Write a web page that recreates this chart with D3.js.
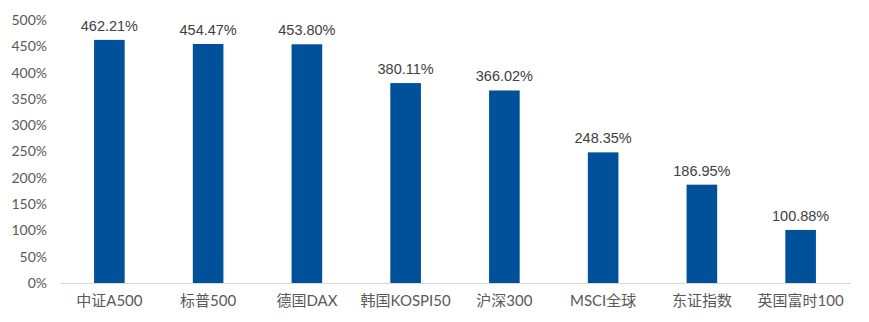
<!DOCTYPE html>
<html><head><meta charset="utf-8">
<script src="https://cdn.jsdelivr.net/npm/d3@7"></script>
<style>body{margin:0;background:#fff}</style>
</head><body>
<svg id="c" width="869" height="322"></svg>
<script>
const categories = ["中证A500","标普500","德国DAX","韩国KOSPI50","沪深300","MSCI全球","东证指数","英国富时100"];
const values = [462.21,454.47,453.80,380.11,366.02,248.35,186.95,100.88];
const yTicks = [0,50,100,150,200,250,300,350,400,450,500];

const svg = d3.select("#c");
const mLeft = 60, mRight = 850, mTop = 20, mBottom = 283;
const x = d3.scaleBand().domain(categories).range([mLeft,mRight]).paddingInner(0.69).paddingOuter(0.345);
const y = d3.scaleLinear().domain([0,500]).range([mBottom,mTop]);

// y axis labels
const ya = svg.append("g").attr("transform",`translate(${mLeft},0)`)
  .call(d3.axisLeft(y).tickValues(yTicks).tickFormat(d=>d+"%").tickSize(0).tickPadding(13));
ya.select(".domain").remove();
ya.selectAll("text").attr("font-family","Lato, 'Noto Sans', sans-serif").attr("font-size","14px").attr("fill","#595959");

// bars
svg.append("g").selectAll("rect").data(values).join("rect")
  .attr("x",(d,i)=>x(categories[i])).attr("width",x.bandwidth())
  .attr("y",d=>y(d)).attr("height",d=>y(0)-y(d)).attr("fill","#00519A");

// x axis
const xa = svg.append("g").attr("transform",`translate(0,${mBottom})`)
  .call(d3.axisBottom(x).tickSize(0).tickPadding(12).tickSizeOuter(0));
xa.select(".domain").attr("stroke","#d9d9d9").attr("stroke-width",1.2);
xa.selectAll("text").attr("font-family","Lato, 'Noto Sans CJK SC', sans-serif").attr("font-size","15px").attr("fill","#595959");

// data labels
svg.append("g").selectAll("text").data(values).join("text")
  .attr("x",(d,i)=>x(categories[i])+x.bandwidth()/2).attr("y",d=>y(d)-9)
  .attr("text-anchor","middle").attr("font-family","'Liberation Sans', Arial, sans-serif")
  .attr("font-size","14.5px").attr("fill","#404040").text(d=>d.toFixed(2)+"%");
</script>
</body></html>
